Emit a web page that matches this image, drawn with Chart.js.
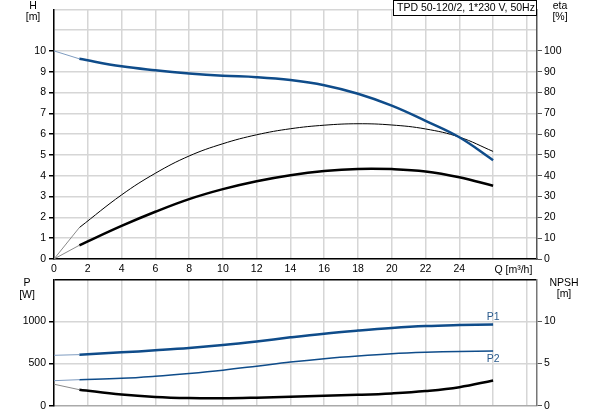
<!DOCTYPE html>
<html>
<head>
<meta charset="utf-8">
<script src="https://cdn.jsdelivr.net/npm/chart.js@4.4.1/dist/chart.umd.min.js"></script>
<style>
  html, body { margin: 0; padding: 0; background: #fff; }
  #wrap { position: relative; width: 593px; height: 415px; overflow: hidden; }
  canvas { position: absolute; left: 0; }
  #topChart { top: 0; }
  #bottomChart { top: 270px; }
</style>
</head>
<body>
<div id="wrap">
  <canvas id="topChart" width="593" height="282"></canvas>
  <canvas id="bottomChart" width="593" height="145"></canvas>
</div>
<script>
// flow points in m3/h (the first segment 0..1.5 is drawn as a thin lead-in)
const flow = [0, 1.5, 4, 6, 8, 10, 12, 14, 16, 18, 20, 22, 24, 26];
const head = [10, 9.62, 9.26, 9.07, 8.92, 8.81, 8.74, 8.6, 8.35, 7.94, 7.37, 6.64, 5.85, 4.75];
const etaHyd = [0, 15.1, 30.8, 41.2, 49.5, 55.4, 59.7, 62.6, 64.3, 65.0, 64.4, 62.5, 58.6, 51.7];
const etaTotal = [0, 6.6, 15.9, 22.7, 28.8, 33.6, 37.4, 40.3, 42.3, 43.3, 43.2, 42.1, 39.3, 35.2];
const powerP1 = [598, 606, 633, 657, 684, 719, 762, 811, 855, 891, 922, 945, 957, 964];
const powerP2 = [297, 309, 325, 350, 383, 422, 469, 518, 558, 590, 616, 633, 644, 649];
const npsh = [2.55, 1.9, 1.32, 1.03, 0.9, 0.88, 0.95, 1.06, 1.18, 1.29, 1.46, 1.74, 2.2, 3.0];

const xTickLabels = ['0', '2', '4', '6', '8', '10', '12', '14', '16', '18', '20', '22', '24'];
const title = 'TPD 50-120/2, 1*230 V, 50Hz';

const BLUE = '#0f4c8a';
const BLUE_LIGHT = '#7f9cc0';
const GREY_LEAD = '#8a8a8a';
const GRID = '#d6d6d6';
const FONT = 'Arial, "Liberation Sans", sans-serif';

Chart.defaults.font.family = FONT;
Chart.defaults.font.size = 10.5;
Chart.defaults.color = '#000';

function points(ys, from, to) {
  return flow.slice(from, to).map((x, i) => ({ x: x, y: ys[from + i] }));
}

function curve(ys, axis, color, width, leadColor) {
  return [
    {
      data: points(ys, 0, 2), yAxisID: axis, borderColor: leadColor,
      borderWidth: 1, pointRadius: 0, tension: 0
    },
    {
      data: points(ys, 1), yAxisID: axis, borderColor: color,
      borderWidth: width, pointRadius: 0, tension: 0.4
    }
  ];
}

const xScale = (showLabels, height) => ({
  type: 'linear', min: 0, max: 28.6,
  afterFit: (s) => { s.height = height; },
  ticks: {
    stepSize: 2, includeBounds: false, display: showLabels, padding: 4,
    maxRotation: 0, autoSkip: false,
    callback: (v) => xTickLabels.includes(String(v)) ? String(v) : ''
  },
  grid: { color: GRID, lineWidth: 1.5, drawTicks: false },
  border: { color: showLabels ? '#000' : '#aaa', width: 1.5 }
});

function textPlugin(draw) {
  return { id: 'texts', afterDraw: (chart) => { const c = chart.ctx; c.save(); draw(c, chart); c.restore(); } };
}

function label(c, text, x, y, align, color) {
  c.fillStyle = color || '#000';
  c.textAlign = align || 'center';
  c.textBaseline = 'middle';
  c.fillText(text, x, y);
}

new Chart(document.getElementById('topChart'), {
  type: 'line',
  data: {
    datasets: [
      ...curve(head, 'yH', BLUE, 2.5, BLUE_LIGHT),
      ...curve(etaHyd, 'yEta', '#000', 1, GREY_LEAD),
      ...curve(etaTotal, 'yEta', '#000', 2.5, GREY_LEAD)
    ]
  },
  options: {
    responsive: false, animation: false, devicePixelRatio: 1,
    layout: { padding: { top: 0, left: 0, right: 0, bottom: 0 } },
    plugins: { legend: { display: false }, tooltip: { enabled: false } },
    scales: {
      x: xScale(true, 23),
      yH: {
        position: 'left', min: 0, max: 12,
        afterFit: (s) => { s.width = 54; },
        ticks: { stepSize: 1, padding: 3, callback: (v) => v <= 10 ? String(v) : '' },
        grid: {
          color: GRID, lineWidth: 1.5, tickLength: 5,
          tickColor: (ctx) => ctx.tick && ctx.tick.value <= 10 ? '#000' : 'rgba(0,0,0,0)'
        },
        border: { color: '#000', width: 1.5 }
      },
      yEta: {
        position: 'right', min: 0, max: 120,
        afterFit: (s) => { s.width = 56; },
        ticks: { stepSize: 10, padding: 2, callback: (v) => v <= 100 ? String(v) : '' },
        grid: {
          drawOnChartArea: false, tickLength: 5,
          tickColor: (ctx) => ctx.tick && ctx.tick.value <= 100 ? '#555' : 'rgba(0,0,0,0)'
        },
        border: { color: '#555', width: 1.5 }
      }
    }
  },
  plugins: [textPlugin((c, chart) => {
    c.font = '10.5px ' + FONT;
    label(c, 'H', 33, 6);
    label(c, '[m]', 33, 17);
    label(c, 'eta', 560, 6);
    label(c, '[%]', 560, 17);
    const xs = chart.scales.x;
    label(c, 'Q [m\u00b3/h]', xs.getPixelForValue(27.2), 270);
    // title box
    c.fillStyle = '#fff';
    c.fillRect(393.5, 0.5, 143, 15);
    c.strokeStyle = '#000';
    c.lineWidth = 1;
    c.strokeRect(393.5, 0.5, 143, 15);
    label(c, title, 397, 8.5, 'left');
  })]
});

new Chart(document.getElementById('bottomChart'), {
  type: 'line',
  data: {
    datasets: [
      ...curve(powerP1, 'yP', BLUE, 2.5, BLUE_LIGHT),
      ...curve(powerP2, 'yP', BLUE, 1.5, BLUE_LIGHT),
      ...curve(npsh, 'yN', '#000', 2.5, GREY_LEAD)
    ]
  },
  options: {
    responsive: false, animation: false, devicePixelRatio: 1,
    layout: { padding: { top: 7, left: 0, right: 0, bottom: 0 } },
    plugins: { legend: { display: false }, tooltip: { enabled: false } },
    scales: {
      x: xScale(false, 9),
      yP: {
        position: 'left', min: 0, max: 1500,
        afterFit: (s) => { s.width = 54; },
        ticks: { stepSize: 500, padding: 3, callback: (v) => v < 1500 ? String(v) : '' },
        grid: {
          lineWidth: 1.5, tickLength: 5,
          color: (ctx) => ctx.tick && ctx.tick.value === 1500 ? '#000' : (ctx.tick && ctx.tick.value === 0 ? 'rgba(0,0,0,0)' : GRID),
          tickColor: (ctx) => ctx.tick && ctx.tick.value < 1500 ? '#000' : 'rgba(0,0,0,0)'
        },
        border: { color: '#000', width: 1.5 }
      },
      yN: {
        position: 'right', min: 0, max: 15,
        afterFit: (s) => { s.width = 56; },
        ticks: { stepSize: 5, padding: 2, callback: (v) => v < 15 ? String(v) : '' },
        grid: {
          drawOnChartArea: false, tickLength: 5,
          tickColor: (ctx) => ctx.tick && ctx.tick.value < 15 ? '#555' : 'rgba(0,0,0,0)'
        },
        border: { color: '#777', width: 1.5 }
      }
    }
  },
  plugins: [textPlugin((c, chart) => {
    c.font = '10.5px ' + FONT;
    label(c, 'P', 27, 13);
    label(c, '[W]', 27, 25);
    label(c, 'NPSH', 564, 13);
    label(c, '[m]', 564, 24);
    const xs = chart.scales.x;
    label(c, 'P1', xs.getPixelForValue(26), 47.5, 'center', '#2a5a8c');
    label(c, 'P2', xs.getPixelForValue(26), 89.5, 'center', '#2a5a8c');
  })]
});
</script>
</body>
</html>
